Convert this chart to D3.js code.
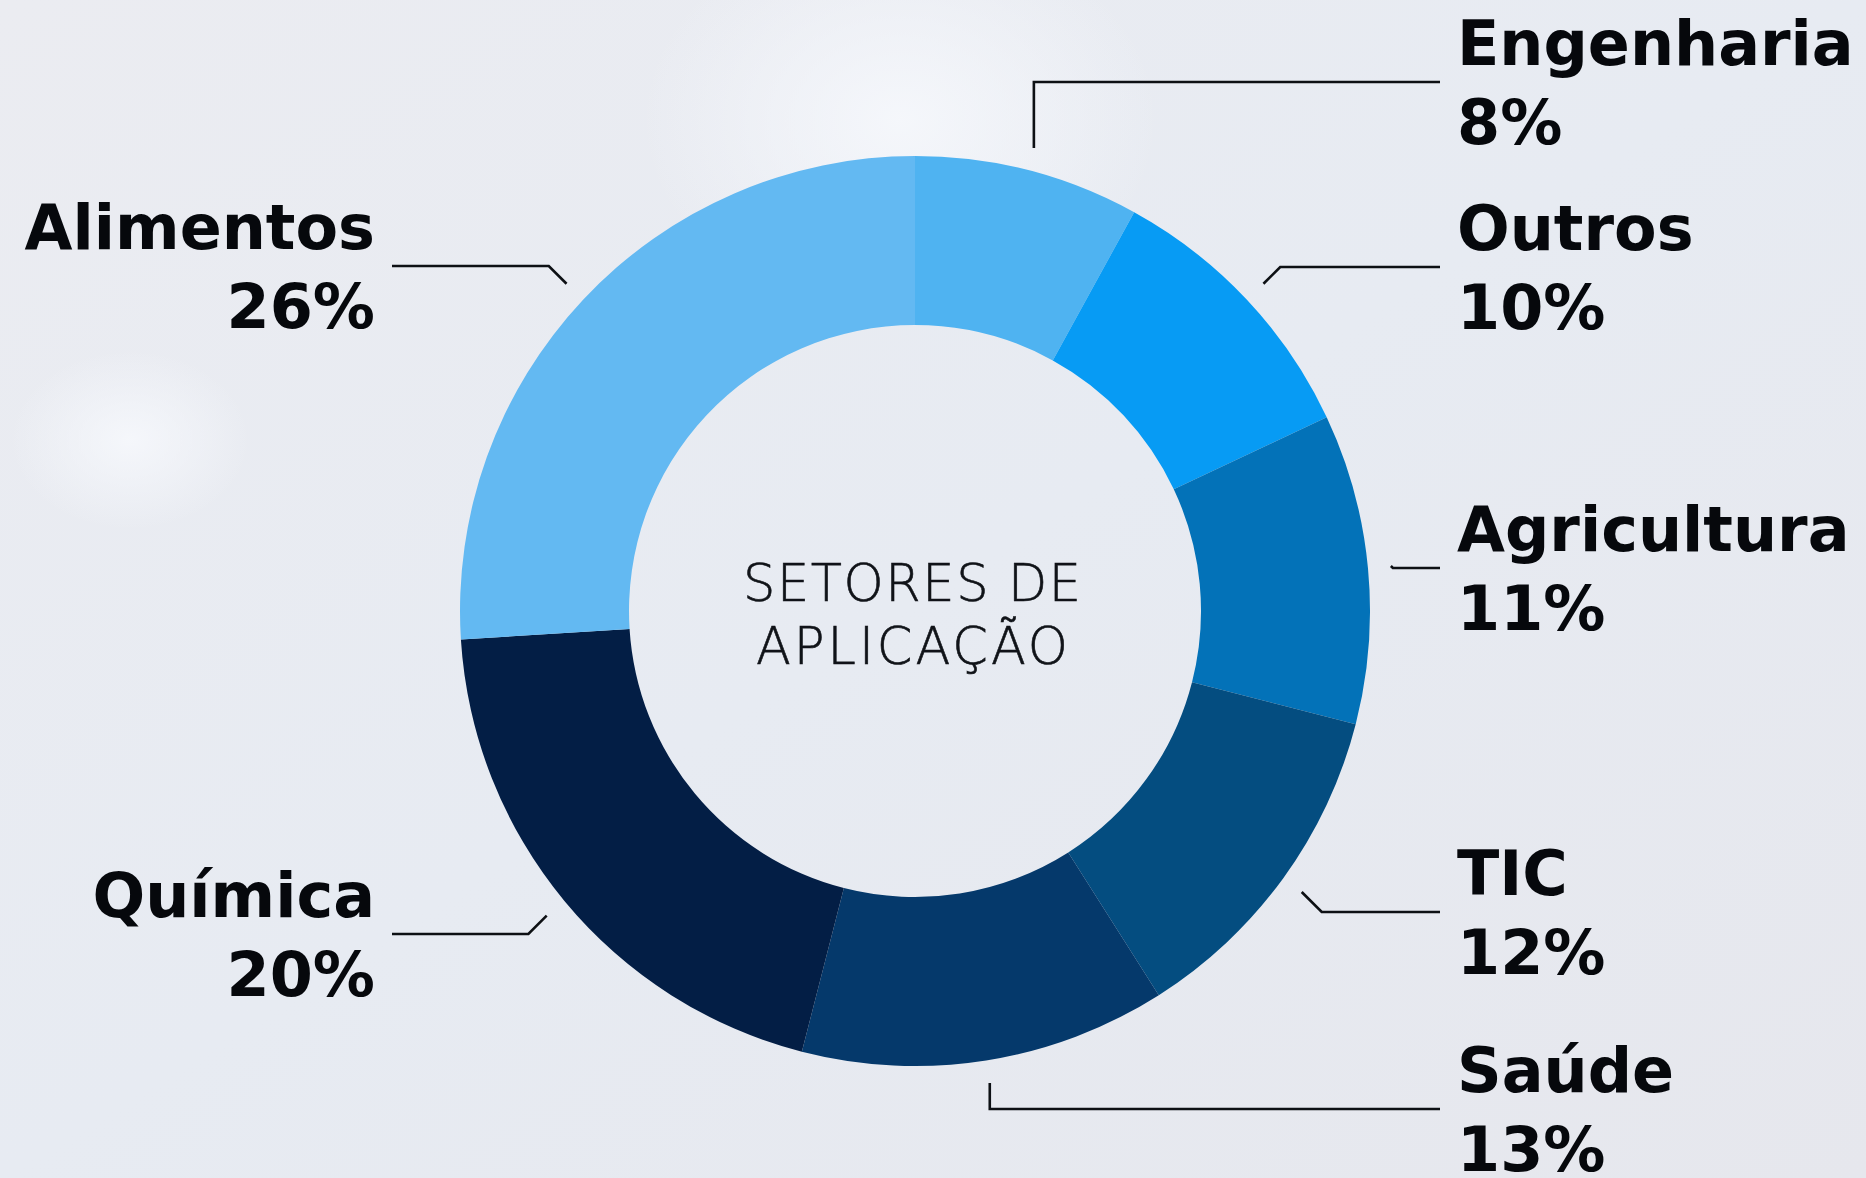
<!DOCTYPE html>
<html>
<head>
<meta charset="utf-8">
<script src="https://cdn.jsdelivr.net/npm/d3@7"></script>
<style>
  html, body { margin: 0; padding: 0; overflow: hidden; }
  svg { display: block; }
</style>
</head>
<body>
<svg id="chart"></svg>
<script>
// Data
const sectors = ["Engenharia", "Outros", "Agricultura", "TIC", "Saúde", "Química", "Alimentos"];
const shares = [8, 10, 11, 12, 13, 20, 26];
const sectorColors = ["#4fb3f1", "#079bf4", "#0372b8", "#044d80", "#05396b", "#031e45", "#63b9f2"];
const centerLines = ["SETORES DE", "APLICAÇÃO"];

// Label layout (name baseline y, how the leader bends)
const labelY = [65, 250, 551, 895, 1092, 917, 249];
const elbowStyle = ["v", "d", "d", "d", "v", "d", "d"];

const width = 1866, height = 1178;
const cx = 915, cy = 611;
const outerR = 455, innerR = 286, leaderR = 478;
const rightX = 1457, leftX = 375;

const svg = d3.select("#chart").attr("width", width).attr("height", height);

// Background
const defs = svg.append("defs");
const bg = defs.append("linearGradient").attr("id", "bg").attr("x1", 0).attr("y1", 0).attr("x2", 1).attr("y2", 1);
bg.append("stop").attr("offset", 0).attr("stop-color", "#ebecf1");
bg.append("stop").attr("offset", 0.5).attr("stop-color", "#e7ebf2");
bg.append("stop").attr("offset", 1).attr("stop-color", "#e6e7ed");
const glow = defs.append("radialGradient").attr("id", "glow");
glow.append("stop").attr("offset", 0).attr("stop-color", "#f6f8fc").attr("stop-opacity", 0.9);
glow.append("stop").attr("offset", 1).attr("stop-color", "#f6f8fc").attr("stop-opacity", 0);

svg.append("rect").attr("width", width).attr("height", height).attr("fill", "url(#bg)");
svg.append("ellipse").attr("cx", 900).attr("cy", 120).attr("rx", 260).attr("ry", 200).attr("fill", "url(#glow)");
svg.append("ellipse").attr("cx", 130).attr("cy", 440).attr("rx", 120).attr("ry", 90).attr("fill", "url(#glow)");

// Donut
const pie = d3.pie().sort(null).value(d => d)(shares);
const arc = d3.arc().innerRadius(innerR).outerRadius(outerR);

const g = svg.append("g").attr("transform", "translate(" + cx + "," + cy + ")");

g.selectAll("path.slice")
    .data(pie)
    .join("path")
    .attr("class", "slice")
    .attr("d", arc)
    .attr("fill", (d, i) => sectorColors[i]);

// Center title
g.selectAll("text.center")
    .data(centerLines)
    .join("text")
    .attr("class", "center")
    .attr("x", -3)
    .attr("y", (d, i) => -10 + i * 63)
    .attr("text-anchor", "middle")
    .attr("font-family", "'DejaVu Sans', sans-serif")
    .attr("font-weight", 200)
    .attr("font-size", 51)
    .attr("fill", "#101318")
    .attr("stroke", "#101318")
    .attr("stroke-width", 0.6)
    .attr("textLength", (d, i) => i == 0 ? 338 : 312)
    .attr("lengthAdjust", "spacing")
    .text(d => d);

// Leader lines and labels
pie.forEach((d, i) => {
    let mid = (d.startAngle + d.endAngle) / 2;
    let sx = cx + leaderR * Math.sin(mid);
    let sy = cy - leaderR * Math.cos(mid);
    let right = sx > cx;
    let side = right ? 1 : -1;
    let ly = labelY[i] + 17;
    let ex = elbowStyle[i] == "v" ? sx : sx + side * Math.abs(ly - sy);
    let endX = right ? rightX - 17 : leftX + 17;

    svg.append("polyline")
        .attr("points", [[sx, sy], [ex, ly], [endX, ly]].map(p => p.join(",")).join(" "))
        .attr("fill", "none")
        .attr("stroke", "#0d1014")
        .attr("stroke-width", 2.6);

    let label = svg.append("text")
        .attr("text-anchor", right ? "start" : "end")
        .attr("font-family", "'DejaVu Sans', sans-serif")
        .attr("font-weight", "bold")
        .attr("font-size", 62)
        .attr("fill", "#06080c");

    label.append("tspan")
        .attr("x", right ? rightX : leftX)
        .attr("y", labelY[i])
        .text(sectors[i]);

    label.append("tspan")
        .attr("x", right ? rightX : leftX)
        .attr("y", labelY[i] + 79)
        .text(shares[i] + "%");
});
</script>
</body>
</html>
